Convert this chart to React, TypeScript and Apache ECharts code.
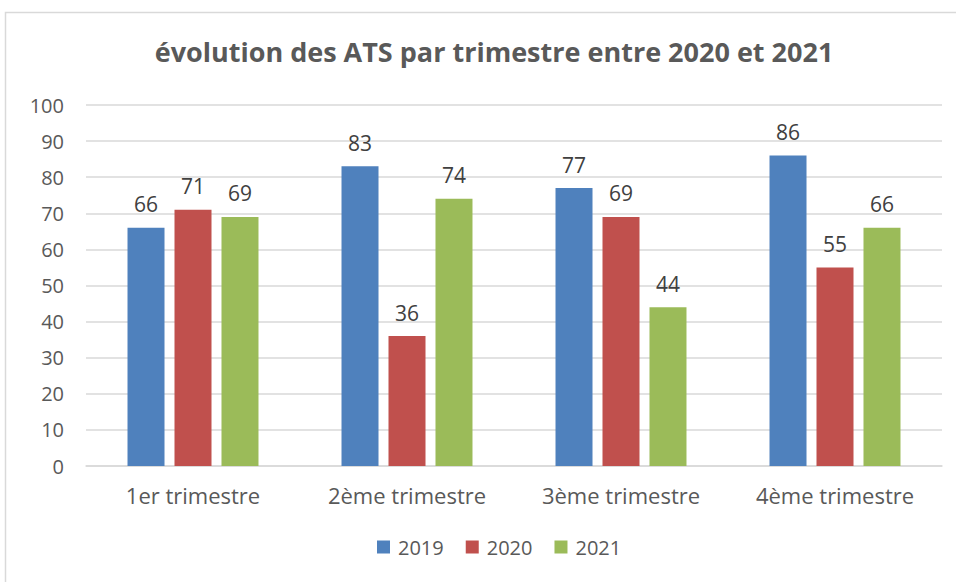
import React, { useEffect, useRef } from "react";
import * as echarts from "echarts";

const categories = ["1er trimestre", "2ème trimestre", "3ème trimestre", "4ème trimestre"];
const seriesNames = ["2019", "2020", "2021"];
const values2019 = [66, 83, 77, 86];
const values2020 = [71, 36, 69, 55];
const values2021 = [69, 74, 44, 66];
const colors = ["#4F81BD", "#C0504D", "#9BBB59"];

export default function App() {
  const ref = useRef<HTMLDivElement>(null);
  useEffect(() => {
    if (!ref.current) return;
    const chart = echarts.init(ref.current, null, { renderer: "svg" });
    const font = "'Open Sans', 'Noto Sans', sans-serif";
    const data = [values2019, values2020, values2021];
    chart.setOption({
      animation: false,
      textStyle: { fontFamily: font },
      title: {
        text: "évolution des ATS par trimestre entre 2020 et 2021",
        left: 489,
        textAlign: "center",
        top: 33,
        textStyle: { fontFamily: font, fontSize: 27, fontWeight: "bold", color: "#595959" },
      },
      graphic: [
        {
          type: "rect",
          shape: { x: 5.5, y: 12.5, width: 960, height: 600 },
          style: { fill: "none", stroke: "#D9D9D9", lineWidth: 1.5 },
          silent: true,
        },
      ],
      legend: {
        data: seriesNames,
        bottom: 20,
        left: 372,
        itemWidth: 13,
        itemHeight: 13,
        itemGap: 22,
        icon: "rect",
        textStyle: { fontFamily: font, fontSize: 20, color: "#595959", padding: [0, 0, 0, 3] },
      },
      grid: { left: 86, right: 14, top: 105, bottom: 116, containLabel: false },
      xAxis: {
        type: "category",
        data: categories,
        axisTick: { show: false },
        axisLine: { lineStyle: { color: "#D9D9D9", width: 1.5 } },
        axisLabel: { fontFamily: font, fontSize: 22, color: "#595959", margin: 18 },
      },
      yAxis: {
        type: "value",
        min: 0,
        max: 100,
        interval: 10,
        axisLine: { show: false },
        axisTick: { show: false },
        splitLine: { lineStyle: { color: "#D9D9D9", width: 1.5 } },
        axisLabel: { fontFamily: font, fontSize: 20, color: "#595959", margin: 22 },
      },
      series: seriesNames.map((name, i) => ({
        name,
        type: "bar",
        data: data[i],
        barWidth: 37,
        barGap: "27%",
        itemStyle: { color: colors[i] },
        label: {
          show: true,
          position: "top",
          distance: 13,
          fontFamily: font,
          fontSize: 21,
          color: "#404040",
        },
      })),
    });
    return () => chart.dispose();
  }, []);
  return (
    <div
      ref={ref}
      style={{ position: "absolute", left: 0, top: 0, width: 956, height: 582, background: "#fff" }}
    />
  );
}
